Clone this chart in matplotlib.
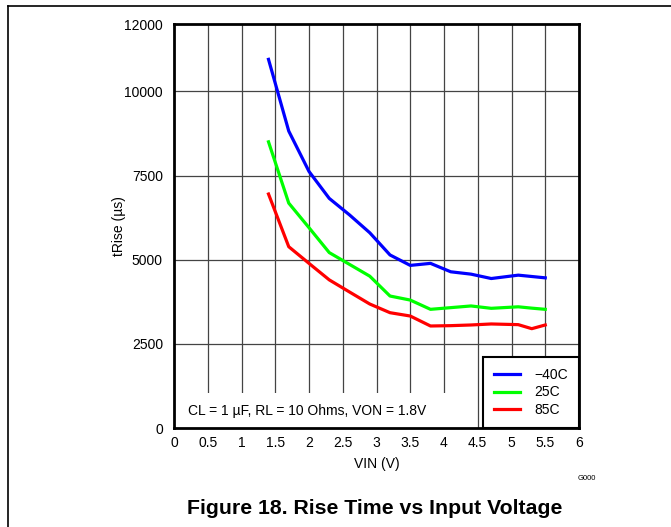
import matplotlib
matplotlib.use("Agg")
import matplotlib.pyplot as plt
from matplotlib.lines import Line2D
from matplotlib.patches import Rectangle

plt.rcParams['font.family'] = ['Liberation Sans', 'DejaVu Sans']

vin = [1.4, 1.7, 2.0, 2.3, 2.6, 2.9, 3.2, 3.5, 3.8, 4.1, 4.4, 4.7, 5.1, 5.3, 5.5]
t_m40 = [10950, 8820, 7620, 6820, 6330, 5800, 5140, 4830, 4890, 4640, 4570, 4440, 4540, 4500, 4460]
t_25 = [8500, 6680, 5950, 5210, 4860, 4510, 3920, 3800, 3525, 3575, 3625, 3555, 3600, 3560, 3525]
t_85 = [6950, 5385, 4890, 4400, 4040, 3683, 3425, 3326, 3030, 3040, 3060, 3090, 3070, 2950, 3060]
labels = ['\u221240C', '25C', '85C']
colors = ['#0000ff', '#00ff00', '#ff0000']
xticks = [0, 0.5, 1, 1.5, 2, 2.5, 3, 3.5, 4, 4.5, 5, 5.5, 6]
xtick_labels = ['0', '0.5', '1', '1.5', '2', '2.5', '3', '3.5', '4', '4.5', '5', '5.5', '6']
yticks = [0, 2500, 5000, 7500, 10000, 12000]
ygrid = [2500, 5000, 7500, 10000]

W, H = 671, 527
fig = plt.figure(figsize=(W / 100, H / 100), dpi=100)
ax = fig.add_axes([174 / W, 1 - 428 / H, (579 - 174) / W, (428 - 24) / H])

ax.set_xlim(0, 6)
ax.set_ylim(0, 12000)

for xv in xticks[1:-1]:
    ax.axvline(xv, color='#444444', lw=0.9, zorder=1)
for yv in ygrid:
    ax.axhline(yv, color='#444444', lw=0.9, zorder=1)

# white box behind annotation
ax.add_patch(Rectangle((0, 0), 4.46 / 6, (428 - 393) / 404, transform=ax.transAxes,
                       facecolor='white', edgecolor='none', zorder=1.5))

for ys, lab, c in zip([t_m40, t_25, t_85], labels, colors):
    ax.plot(vin, ys, color=c, lw=2.3, label=lab, zorder=3, solid_joinstyle='round')

ax.set_xticks(xticks)
ax.set_xticklabels(xtick_labels)
ax.set_yticks(yticks)
ax.tick_params(axis='both', length=0, labelsize=10)
ax.tick_params(axis='x', pad=6)
ax.tick_params(axis='y', pad=8)
for s in ax.spines.values():
    s.set_linewidth(2)
    s.set_color('black')
    s.set_zorder(5)

ax.set_xlabel('VIN (V)', fontsize=10, labelpad=5)
ax.set_ylabel('tRise (\u00b5s)', fontsize=10, labelpad=-1)

ax.text(0.035, 0.042, 'CL = 1 \u00b5F, RL = 10 Ohms, VON = 1.8V', transform=ax.transAxes,
        fontsize=10, va='center', ha='left', zorder=4)

leg = ax.legend(loc='lower right', borderaxespad=0, fancybox=False, framealpha=1,
                edgecolor='black', fontsize=10, handlelength=1.9, labelspacing=0.25,
                borderpad=0.8, handletextpad=1.0)
leg.get_frame().set_linewidth(1.5)
leg.set_zorder(6)

fig.text(587 / W, 1 - 479 / H, 'G000', fontsize=5.5, ha='center', va='center')
fig.text(375 / W, 1 - 509 / H, 'Figure 18. Rise Time vs Input Voltage', fontsize=15.3,
         fontweight='bold', ha='center', va='center')

# page frame
fig.add_artist(Line2D([8 / W, 1], [1 - 6 / H, 1 - 6 / H], transform=fig.transFigure, color='black', lw=1.2))
fig.add_artist(Line2D([8 / W, 8 / W], [1 - 6 / H, 0], transform=fig.transFigure, color='black', lw=1.2))

fig.savefig('out.png', dpi=100, facecolor='white')
